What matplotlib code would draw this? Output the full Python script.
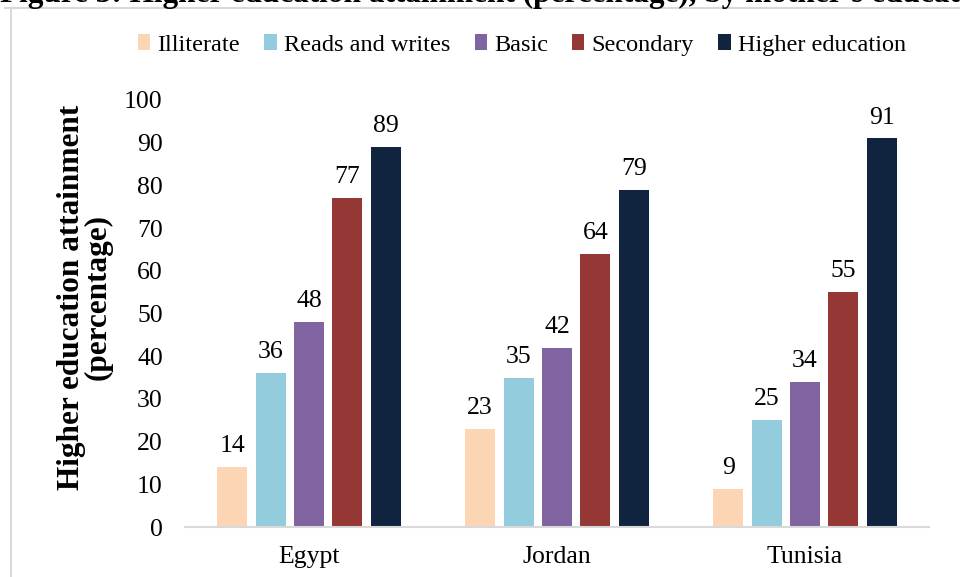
import numpy as np
import matplotlib.pyplot as plt
from matplotlib.lines import Line2D

# values
countries = ['Egypt', 'Jordan', 'Tunisia']
levels = ['Illiterate', 'Reads and writes', 'Basic', 'Secondary', 'Higher education']
illiterate = [14, 23, 9]
reads_writes = [36, 35, 25]
basic = [48, 42, 34]
secondary = [77, 64, 55]
higher = [89, 79, 91]
colors = ['#FCD5B5', '#93CDDD', '#8064A2', '#953735', '#10243F']

series = [illiterate, reads_writes, basic, secondary, higher]

plt.rcParams['font.family'] = ['Liberation Serif', 'DejaVu Serif']
fs = 18.5

fig = plt.figure(figsize=(9.6, 5.77), dpi=100)
ax = fig.add_axes([185/960, 1 - 527/577, 744/960, 427/577])

x = np.arange(len(countries))
step = 0.155
width = 0.121
for k, (vals, col) in enumerate(zip(series, colors)):
    pos = x + (k - 2) * step
    bars = ax.bar(pos, vals, width, color=col, label=levels[k])
    for b, v in zip(bars, vals):
        ax.text(b.get_x() + b.get_width() / 2, v + 2.3, str(v),
                ha='center', va='bottom', fontsize=fs)

ax.set_xlim(-0.5, 2.5)
ax.set_ylim(0, 100)
ax.set_yticks(np.arange(0, 101, 10))
ax.set_xticks(x)
ax.set_xticklabels(countries, fontsize=fs)
ax.tick_params(axis='y', length=0, pad=16, labelsize=fs)
ax.tick_params(axis='x', length=0, pad=14)
for s in ['top', 'right', 'left']:
    ax.spines[s].set_visible(False)
ax.spines['bottom'].set_color('#d9d9d9')
ax.spines['bottom'].set_linewidth(1.5)

# y label placed by hand to sit like in the reference
fig.text(85/960, 1 - 297/577, 'Higher education attainment\n(percentage)', fontsize=22.5,
         fontweight='bold', rotation=90, ha='center', va='center',
         linespacing=0.9, multialignment='center')

handles, labels = ax.get_legend_handles_labels()
fig.legend(handles, labels, loc='center', bbox_to_anchor=(522/960, 1 - 45/577),
           ncol=5, frameon=False, fontsize=17.5, handlelength=0.5, handleheight=0.6,
           handletextpad=0.3, columnspacing=1.0)

# page frame and cut-off caption from the source document
fig.add_artist(Line2D([5/960, 1], [1 - 8/577] * 2, color='#d9d9d9', lw=1.5))
fig.add_artist(Line2D([11/960] * 2, [0, 1 - 8/577], color='#d9d9d9', lw=1.5))
fig.text(0.0, 1 - 2/577, "Figure 3: Higher education attainment (percentage), by mother's education",
         fontsize=22.5, fontweight='bold', va='baseline', ha='left')

fig.savefig('out.png', dpi=100)
